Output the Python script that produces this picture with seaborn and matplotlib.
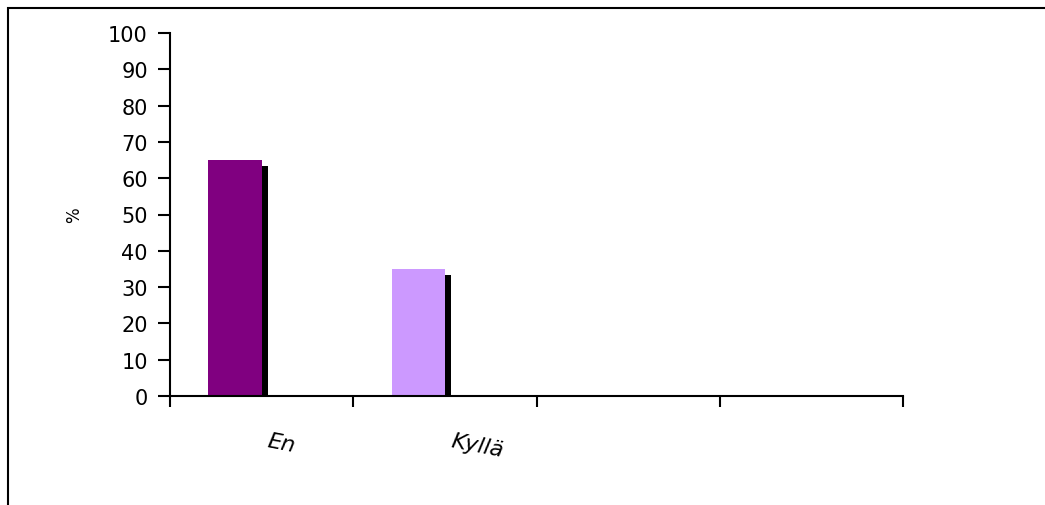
import numpy as np
import pandas as pd
import seaborn as sns
import matplotlib.pyplot as plt
from matplotlib.patches import Rectangle
from matplotlib.transforms import offset_copy, ScaledTranslation

# data
categories = ["En", "Kyllä", " ", "  "]
values = [65, 35, 0, 0]
bar_colors = ["#800080", "#CC99FF", "#FFFFFF", "#FFFFFF"]

sns.set_style("white")
plt.rcParams['font.family'] = ['DejaVu Sans']

df = pd.DataFrame({"cat": categories, "val": values})

fig = plt.figure(figsize=(10.45, 5.06), dpi=100)
ax = fig.add_axes([170/1045, 1-397/506, (903-170)/1045, (397-34)/506])

bw = 0.29
# shadow bars (black, shifted right/down)
sns.barplot(data=df, x="cat", y="val", color="black", width=bw, ax=ax,
            saturation=1, errorbar=None)
shadow_tr = offset_copy(ax.transData, fig=fig, x=0.06, y=-0.06, units='inches')
for p in ax.patches:
    p.set_x(p.get_x() - bw/2)
    p.set_transform(shadow_tr)
    p.set_linewidth(0)
n_shadow = len(ax.patches)

sns.barplot(data=df, x="cat", y="val", hue="cat", palette=bar_colors, width=bw,
            ax=ax, saturation=1, errorbar=None, legend=False)
for p in ax.patches[n_shadow:]:
    p.set_x(p.get_x() - bw/2)
    p.set_linewidth(0)

ax.set_xlim(-0.5, len(categories) - 0.5)
ax.set_ylim(0, 100)
ax.set_yticks(np.arange(0, 101, 10))

ax.set_xticks(np.arange(len(categories)))
ax.set_xticks(np.arange(len(categories) + 1) - 0.5, minor=True)
ax.tick_params(axis='x', which='major', bottom=False, pad=21, labelsize=16, labelcolor='black')
ax.tick_params(axis='x', which='minor', bottom=True, length=8, width=1.5, direction='out', color='black')
ax.tick_params(axis='y', left=True, length=9, width=1.5, direction='out', color='black',
               labelsize=15, labelcolor='black', pad=7)
shift = ScaledTranslation(0.08, 0, fig.dpi_scale_trans)
for lab in ax.get_xticklabels():
    lab.set_rotation(-11)
    lab.set_ha('left')
    lab.set_rotation_mode('anchor')
    lab.set_fontstyle('italic')
    lab.set_transform(lab.get_transform() + shift)

ax.set_xlabel("")
ax.set_ylabel("%", fontsize=12, color='black')
ax.yaxis.set_label_coords((83-170)/733, 0.5)

for s in ["top", "right"]:
    ax.spines[s].set_visible(False)
for s in ["left", "bottom"]:
    ax.spines[s].set_color("black")
    ax.spines[s].set_linewidth(1.5)

# chart frame (cropped on right and bottom)
fig.add_artist(Rectangle((8/1045, -0.2), 1.2, 1-9/506 + 0.2, transform=fig.transFigure,
                         fill=False, edgecolor="black", linewidth=1.5))

fig.savefig("out.png", dpi=100)
